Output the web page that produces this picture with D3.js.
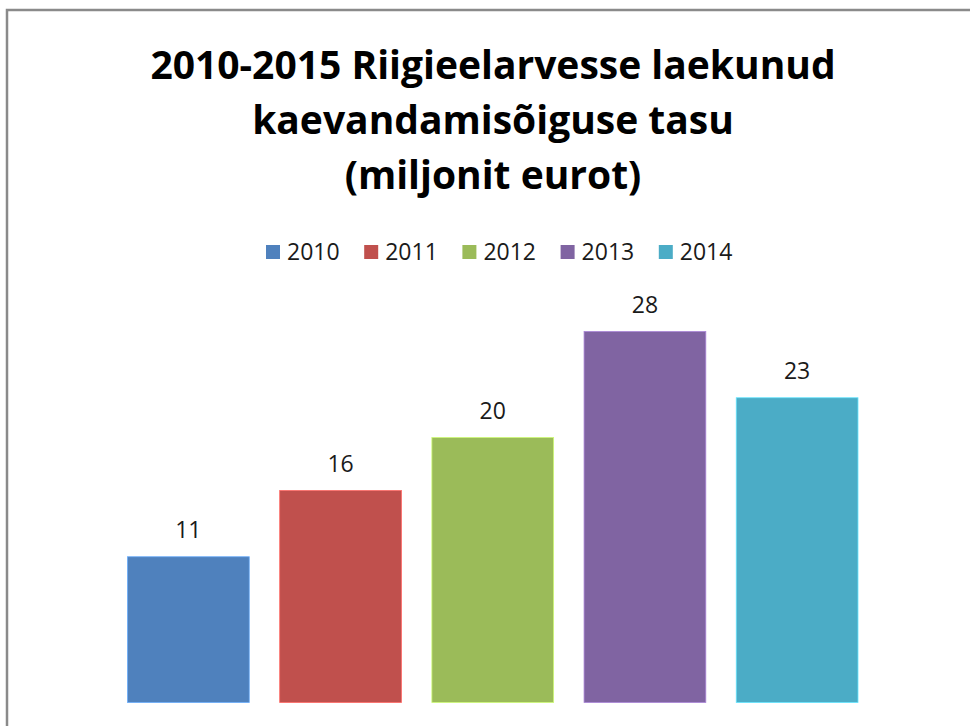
<!DOCTYPE html>
<html>
<head>
<meta charset="utf-8">
<script src="https://cdn.jsdelivr.net/npm/d3@7"></script>
<style>
  html, body { margin: 0; padding: 0; background: #fff; overflow: hidden; }
  svg { display: block; font-family: "Open Sans", sans-serif; }
</style>
</head>
<body>
<svg width="970" height="726"></svg>
<script>
// Data
const years = ["2010", "2011", "2012", "2013", "2014"];
const values = [11, 16, 20, 28, 23];
const colors = ["#4F81BD", "#C0504D", "#9BBB59", "#8064A2", "#4BACC6"];
const titleLines = [
  "2010-2015 Riigieelarvesse laekunud",
  "kaevandamisõiguse tasu",
  "(miljonit eurot)"
];

const data = years.map((year, i) => ({ year, value: values[i], color: colors[i] }));

const svg = d3.select("svg");
const centerX = 493;

// Outer chart border (runs off right and bottom edges)
svg.append("rect")
  .attr("x", 7)
  .attr("y", 10)
  .attr("width", 1000)
  .attr("height", 760)
  .attr("fill", "#fff")
  .attr("stroke", "#8a8a8a")
  .attr("stroke-width", 2.5);

// Title
svg.append("g")
  .selectAll("text")
  .data(titleLines)
  .join("text")
  .attr("x", centerX)
  .attr("y", (d, i) => 79 + i * 55)
  .attr("text-anchor", "middle")
  .attr("font-size", 39)
  .attr("font-weight", "bold")
  .attr("fill", "#000")
  .text(d => d);

// Legend
const legendX = d3.scaleBand()
  .domain(years)
  .range([266, 757]);

const legend = svg.append("g")
  .selectAll("g")
  .data(data)
  .join("g")
  .attr("transform", d => `translate(${legendX(d.year)},245)`);

legend.append("rect")
  .attr("width", 14)
  .attr("height", 14)
  .attr("fill", d => d.color);

legend.append("text")
  .attr("x", 21)
  .attr("y", 15)
  .attr("font-size", 23)
  .attr("fill", "#1a1a1a")
  .text(d => d.year);

// Scales
const xScale = d3.scaleBand()
  .domain(years)
  .range([127.5, 858])
  .paddingInner(0.2)
  .paddingOuter(0);

const yScale = d3.scaleLinear()
  .domain([0, 30])
  .range([702.5, 305]);

// Bars
svg.append("g")
  .selectAll("rect")
  .data(data)
  .join("rect")
  .attr("x", d => xScale(d.year))
  .attr("y", d => yScale(d.value))
  .attr("width", xScale.bandwidth())
  .attr("height", d => yScale(0) - yScale(d.value))
  .attr("fill", d => d.color)
  .attr("stroke", d => d3.color(d.color).brighter(0.8))
  .attr("stroke-width", 0.8);

// Value labels
svg.append("g")
  .selectAll("text")
  .data(data)
  .join("text")
  .attr("x", d => xScale(d.year) + xScale.bandwidth() / 2)
  .attr("y", d => yScale(d.value) - 19)
  .attr("text-anchor", "middle")
  .attr("font-size", 23)
  .attr("fill", "#1a1a1a")
  .text(d => d.value);
</script>
</body>
</html>
